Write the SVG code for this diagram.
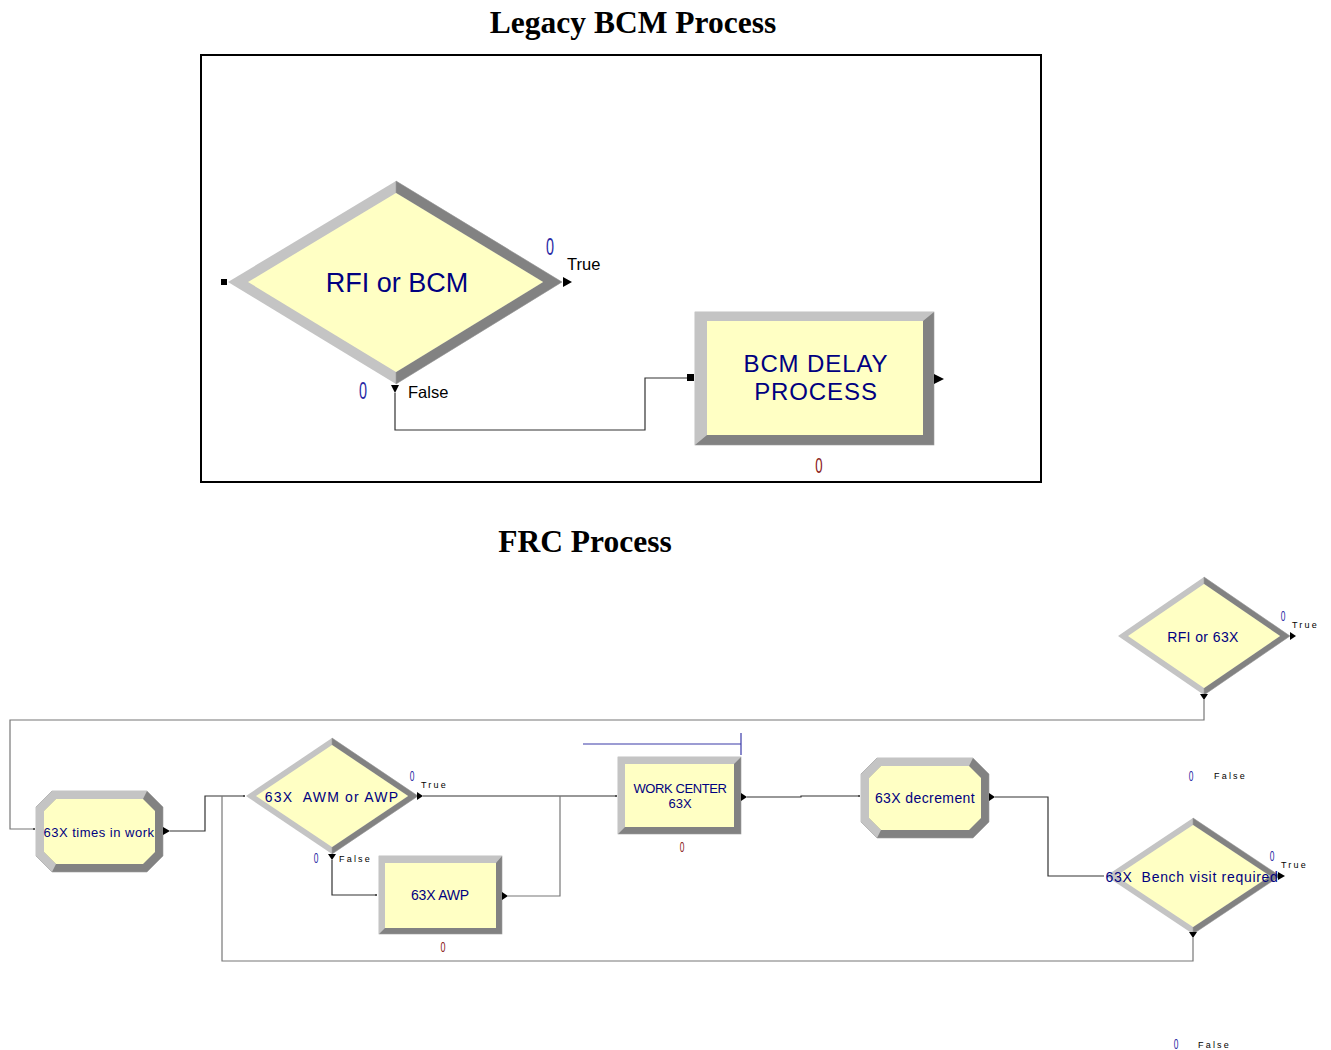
<svg xmlns="http://www.w3.org/2000/svg" width="1331" height="1050" viewBox="0 0 1331 1050">
<defs>
<style>
.title{font-family:"Liberation Serif","Times New Roman",serif;font-weight:bold;fill:#000}
.nt{font-family:"Liberation Sans",Arial,sans-serif;fill:#000080;text-anchor:middle}
.lbl{font-family:"Liberation Sans",Arial,sans-serif;fill:#000}
.sm{font-family:"Liberation Sans",Arial,sans-serif;fill:#000;font-size:9px;letter-spacing:2.2px}
.cb{font-family:"Liberation Sans",Arial,sans-serif;fill:#2b2ba6;text-anchor:middle}
.cr{font-family:"Liberation Sans",Arial,sans-serif;fill:#8b1a1a;text-anchor:middle}
.lt{fill:#c4c4c4}
.dk{fill:#828282;stroke:#9a9a9a;stroke-width:0.6}
.fc{fill:#ffffc4}
.conn{fill:none;stroke:#333;stroke-width:1.2}
.connG{fill:none;stroke:#777;stroke-width:1.2}
.arr{fill:#000}
</style>
</defs>

<text class="title" x="633" y="33" font-size="31.5" text-anchor="middle">Legacy BCM Process</text>
<text class="title" x="585" y="552" font-size="31.5" text-anchor="middle">FRC Process</text>

<rect x="201" y="55" width="840" height="427" fill="none" stroke="#000" stroke-width="2"/>

<g id="connectors">
  <polyline class="conn" points="395,393 395,430 645,430 645,378 687,378"/>
  <polyline class="connG" points="1204,700 1204,720 10,720 10,829 33,829"/>
  <polyline class="conn" points="170,831 205,831 205,796 243,796"/>
  <polyline class="connG" points="1193,938 1193,961 222,961 222,796"/>
  <polyline class="conn" points="423,796 615,796"/>
  <polyline class="conn" points="332,860 332,895 375,895"/>
  <polyline class="connG" points="508,896 560,896 560,796"/>
  <polyline class="conn" points="747,797 801,797 801,796 858,796"/>
  <polyline class="conn" points="995,797 1048,797 1048,876 1104,876"/>
  <line x1="583" y1="744" x2="741" y2="744" stroke="#3a3aa8" stroke-width="1.2"/>
  <line x1="741" y1="733" x2="741" y2="755" stroke="#3a3aa8" stroke-width="1.2"/>
</g>

<g id="node-rfi-bcm">
  <polygon class="lt" points="228,282 396,181 562,282 396,384"/>
  <polygon class="dk" points="396,181 562,282 396,384 396,372 543,282 396,193"/>
  <polygon class="fc" points="248,282 396,193 543,282 396,372"/>
  <text class="nt" x="397" y="292" font-size="27">RFI or BCM</text>
  <rect x="221" y="279" width="6" height="6" fill="#000"/>
  <polygon class="arr" points="563,277 572,282 563,287"/>
  <polygon class="arr" points="391,385 399,385 395,393"/>
  <text class="cb" transform="translate(550,255) scale(0.6,1)" font-size="24">0</text>
  <text class="lbl" x="567" y="270" font-size="16.5">True</text>
  <text class="cb" transform="translate(363,399) scale(0.6,1)" font-size="24">0</text>
  <text class="lbl" x="408" y="398" font-size="16.5">False</text>
</g>

<g id="node-bcm-delay">
  <rect x="695" y="312" width="239" height="133" class="dk"/>
  <polygon class="lt" points="695,445 695,312 934,312 923,321 707,321 707,435"/>
  <rect x="707" y="321" width="216" height="114" class="fc"/>
  <text class="nt" x="816" y="372" font-size="24" letter-spacing="0.9">BCM DELAY</text>
  <text class="nt" x="816" y="400" font-size="24" letter-spacing="0.9">PROCESS</text>
  <rect x="687" y="374" width="7" height="7" fill="#000"/>
  <polygon class="arr" points="934,374 944,379 934,384"/>
  <text class="cr" transform="translate(819,473) scale(0.6,1)" font-size="22">0</text>
</g>

<g id="node-rfi-63x">
  <polygon class="lt" points="1118,636 1204,577 1290,636 1204,695"/>
  <polygon class="dk" points="1204,577 1290,636 1204,695 1204,688 1280,636 1204,584"/>
  <polygon class="fc" points="1128,636 1204,584 1280,636 1204,688"/>
  <text class="nt" x="1203" y="642" font-size="14" letter-spacing="0.4">RFI or 63X</text>
  <polygon class="arr" points="1290,632 1296,636 1290,640"/>
  <polygon class="arr" points="1200,694 1208,694 1204,700"/>
  <text class="cb" transform="translate(1283,621) scale(0.6,1)" font-size="14">0</text>
  <text class="sm" x="1292" y="628">True</text>
</g>

<g id="node-times-in-work">
  <polygon class="dk" points="52,791 147,791 163,807 163,856 147,872 52,872 36,856 36,807"/>
  <polygon class="lt" points="52,872 36,856 36,807 52,791 147,791 143,799 56,799 44,811 44,852 56,864"/>
  <polygon class="fc" points="56,799 143,799 155,811 155,852 143,864 56,864 44,852 44,811"/>
  <text class="nt" x="99" y="837" font-size="13" letter-spacing="0.5">63X times in work</text>
  <rect x="33" y="828" width="2" height="2" fill="#555"/>
  <polygon class="arr" points="163,827 170,831 163,835"/>
</g>

<g id="node-awm-awp">
  <polygon class="lt" points="246,796 332,738 418,796 332,854"/>
  <polygon class="dk" points="332,738 418,796 332,854 332,847 408,796 332,745"/>
  <polygon class="fc" points="256,796 332,745 408,796 332,847"/>
  <text class="nt" x="332" y="802" font-size="14" letter-spacing="1.2">63X&#160; AWM or AWP</text>
  <rect x="243" y="795" width="2" height="2" fill="#555"/>
  <polygon class="arr" points="417,792 423,796 417,800"/>
  <polygon class="arr" points="328,854 336,854 332,860"/>
  <text class="cb" transform="translate(412,781) scale(0.6,1)" font-size="14">0</text>
  <text class="sm" x="421" y="788">True</text>
  <text class="cb" transform="translate(316,863) scale(0.6,1)" font-size="14">0</text>
  <text class="sm" x="339" y="862">False</text>
</g>

<g id="node-awp">
  <rect x="379" y="856" width="123" height="78" class="dk"/>
  <polygon class="lt" points="379,934 379,856 502,856 496,863 385,863 385,928"/>
  <rect x="385" y="863" width="111" height="65" class="fc"/>
  <text class="nt" x="440" y="900" font-size="14" letter-spacing="-0.2">63X AWP</text>
  <rect x="375" y="894" width="2" height="2" fill="#555"/>
  <polygon class="arr" points="502,892 508,896 502,900"/>
  <text class="cr" transform="translate(443,952) scale(0.6,1)" font-size="15">0</text>
</g>

<g id="node-work-center">
  <rect x="618" y="757" width="123" height="77" class="dk"/>
  <polygon class="lt" points="618,834 618,757 741,757 734,764 625,764 625,827"/>
  <rect x="625" y="764" width="109" height="63" class="fc"/>
  <text class="nt" x="680" y="793" font-size="13" letter-spacing="-0.4">WORK CENTER</text>
  <text class="nt" x="680" y="808" font-size="13">63X</text>
  <rect x="615" y="795" width="2" height="2" fill="#555"/>
  <polygon class="arr" points="741,793 747,797 741,801"/>
  <text class="cr" transform="translate(682,852) scale(0.6,1)" font-size="14">0</text>
</g>

<g id="node-decrement">
  <polygon class="dk" points="877,758 973,758 989,774 989,822 973,838 877,838 861,822 861,774"/>
  <polygon class="lt" points="877,838 861,822 861,774 877,758 973,758 969,766 881,766 869,778 869,818 881,830"/>
  <polygon class="fc" points="881,766 969,766 981,778 981,818 969,830 881,830 869,818 869,778"/>
  <text class="nt" x="925" y="803" font-size="14" letter-spacing="0.4">63X decrement</text>
  <rect x="858" y="795" width="2" height="2" fill="#555"/>
  <polygon class="arr" points="989,793 995,797 989,801"/>
</g>

<g id="node-bench">
  <polygon class="lt" points="1106,876 1193,818 1280,876 1193,934"/>
  <polygon class="dk" points="1193,818 1280,876 1193,934 1193,927 1270,876 1193,825"/>
  <polygon class="fc" points="1116,876 1193,825 1270,876 1193,927"/>
  <text class="nt" x="1192" y="882" font-size="14" letter-spacing="0.7">63X&#160; Bench visit required</text>
  <polygon class="arr" points="1278,872 1285,876 1278,880"/>
  <polygon class="arr" points="1189,932 1197,932 1193,938"/>
  <text class="cb" transform="translate(1272,861) scale(0.6,1)" font-size="14">0</text>
  <text class="sm" x="1281" y="868">True</text>
  <text class="cb" transform="translate(1191,781) scale(0.6,1)" font-size="14">0</text>
  <text class="sm" x="1214" y="779">False</text>
  <text class="cb" transform="translate(1176,1049) scale(0.6,1)" font-size="14">0</text>
  <text class="sm" x="1198" y="1048">False</text>
</g>
</svg>
